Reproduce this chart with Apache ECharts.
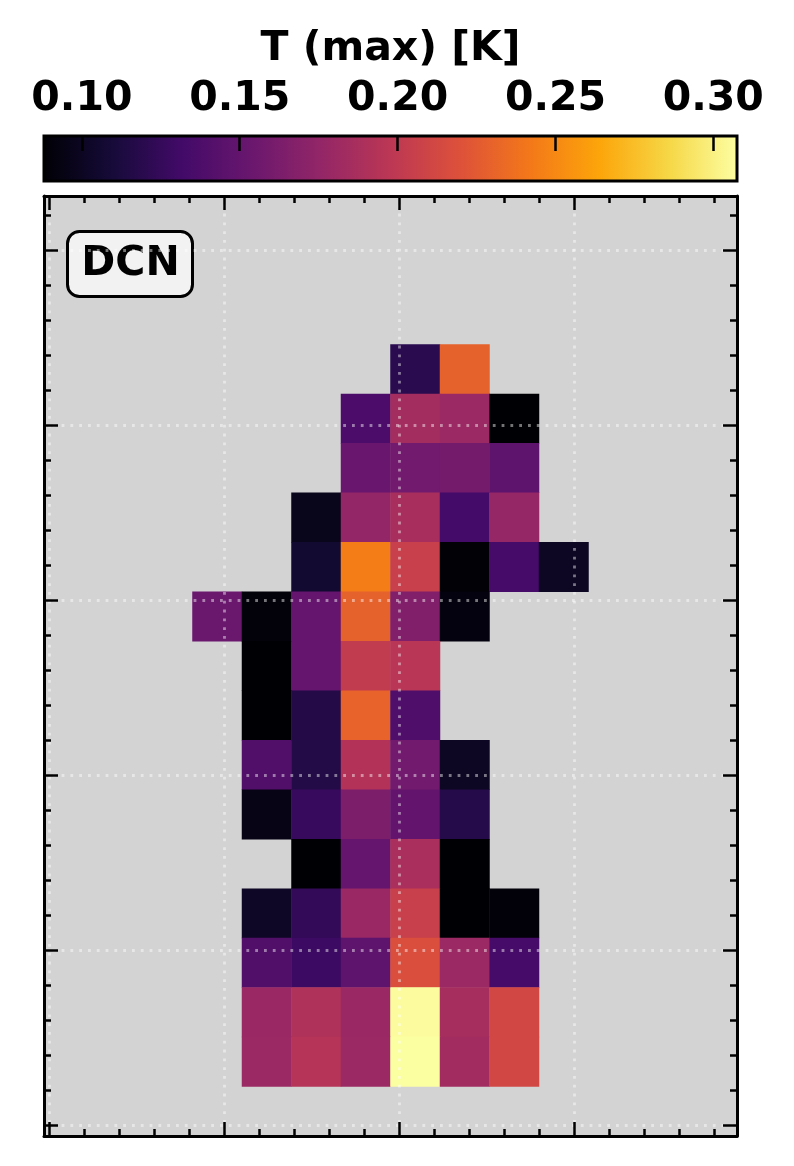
<!DOCTYPE html>
<html>
<head>
<meta charset="utf-8">
<script src="https://cdn.jsdelivr.net/npm/echarts@6/dist/echarts.min.js"></script>
<style>
html, body { margin: 0; padding: 0; background: #fff; }
#chart { width: 794px; height: 1166px; }
</style>
</head>
<body>
<div id="chart"></div>
<script>
var chart = echarts.init(document.getElementById('chart'));

// map cells: column / row index (row 0 = top), and T(max) in K
var cellCol = [
  7, 8,
  6, 7, 8, 9,
  6, 7, 8, 9,
  5, 6, 7, 8, 9,
  5, 6, 7, 8, 9, 10,
  3, 4, 5, 6, 7, 8,
  4, 5, 6, 7,
  4, 5, 6, 7,
  4, 5, 6, 7, 8,
  4, 5, 6, 7, 8,
  5, 6, 7, 8,
  4, 5, 6, 7, 8, 9,
  4, 5, 6, 7, 8, 9,
  4, 5, 6, 7, 8, 9,
  4, 5, 6, 7, 8, 9
];
var cellRow = [
  3, 3,
  4, 4, 4, 4,
  5, 5, 5, 5,
  6, 6, 6, 6, 6,
  7, 7, 7, 7, 7, 7,
  8, 8, 8, 8, 8, 8,
  9, 9, 9, 9,
  10, 10, 10, 10,
  11, 11, 11, 11, 11,
  12, 12, 12, 12, 12,
  13, 13, 13, 13,
  14, 14, 14, 14, 14, 14,
  15, 15, 15, 15, 15, 15,
  16, 16, 16, 16, 16, 16,
  17, 17, 17, 17, 17, 17
];
var tmax = [
  0.120, 0.229,
  0.137, 0.185, 0.180, 0.088,
  0.153, 0.158, 0.159, 0.147,
  0.097, 0.176, 0.187, 0.133, 0.177,
  0.107, 0.244, 0.205, 0.089, 0.134, 0.101,
  0.154, 0.091, 0.151, 0.229, 0.166, 0.092,
  0.088, 0.151, 0.202, 0.196,
  0.088, 0.117, 0.230, 0.139,
  0.140, 0.116, 0.193, 0.158, 0.101,
  0.095, 0.127, 0.164, 0.150, 0.118,
  0.088, 0.151, 0.188, 0.088,
  0.102, 0.124, 0.179, 0.205, 0.088, 0.090,
  0.140, 0.129, 0.147, 0.217, 0.180, 0.134,
  0.179, 0.191, 0.179, 0.306, 0.186, 0.211,
  0.180, 0.194, 0.180, 0.307, 0.184, 0.211
];

var cbTicks = [0.10, 0.15, 0.20, 0.25, 0.30];
var cbRange = [0.088, 0.3075];

var nCols = 14, nRows = 19;
// offset coordinates spanned by the frame (for the tick marks)
var xRange = [-0.16, 19.65];
var yRange = [-0.31, 26.56];

var FONT = 'DejaVu Sans';
var INFERNO = ['#000004', '#160b39', '#420a68', '#6a176e', '#932667', '#bc3754',
  '#dd513a', '#f37819', '#fca50a', '#f6d746', '#fcffa4'];

var cells = cellCol.map(function (c, i) { return [c, cellRow[i], tmax[i]]; });

var idx = function (n) { var a = []; for (var i = 0; i < n; i++) a.push(i); return a; };

function frameAxis(pos, range, grid) {
  return {
    type: 'value',
    gridIndex: 0,
    position: pos,
    min: range[0],
    max: range[1],
    splitNumber: 4,
    minInterval: 5,
    maxInterval: 5,
    z: 5,
    axisLine: { show: true, onZero: false, lineStyle: { color: '#000', width: 3 } },
    axisTick: { show: true, inside: true, length: 14, lineStyle: { color: '#000', width: 2.5 } },
    minorTick: { show: true, splitNumber: 5, length: 7, lineStyle: { color: '#000', width: 2.5 } },
    axisLabel: { show: false },
    splitLine: {
      show: grid, showMinLine: false, showMaxLine: false,
      lineStyle: { color: 'rgba(255,255,255,0.45)', width: 2.8, type: [2.8, 6] }
    }
  };
}

var option = {
  backgroundColor: '#fff',
  animation: false,
  grid: [
    { left: 44, top: 196, width: 693, height: 940, show: true, backgroundColor: '#d3d3d3', borderWidth: 0, outerBoundsMode: 'none' },
    { left: 44, top: 136, width: 693, height: 45, outerBoundsMode: 'none' }
  ],
  xAxis: [
    { type: 'category', gridIndex: 0, data: idx(nCols), show: false },
    frameAxis('bottom', xRange, true),
    frameAxis('top', xRange, false),
    {
      type: 'value', gridIndex: 1, position: 'top',
      min: cbRange[0], max: cbRange[1],
      splitNumber: 4, minInterval: 0.05, maxInterval: 0.05,
      z: 5,
      name: 'T (max) [K]',
      nameLocation: 'middle',
      nameGap: 66,
      nameMoveOverlap: false,
      nameTextStyle: { fontFamily: FONT, fontWeight: 'bold', fontSize: 41, color: '#000' },
      axisLine: { show: false, onZero: false },
      axisTick: { show: true, inside: true, length: 15, lineStyle: { color: '#000', width: 2.5 } },
      axisLabel: {
        show: true, margin: 16, fontFamily: FONT, fontWeight: 'bold', fontSize: 41, color: '#000',
        showMinLabel: false, showMaxLabel: false,
        formatter: function (v) {
          for (var i = 0; i < cbTicks.length; i++) {
            if (Math.abs(v - cbTicks[i]) < 1e-6) return cbTicks[i].toFixed(2);
          }
          return '';
        }
      },
      splitLine: { show: false }
    }
  ],
  yAxis: [
    { type: 'category', gridIndex: 0, data: idx(nRows), inverse: true, show: false },
    frameAxis('left', yRange, true),
    frameAxis('right', yRange, false),
    { type: 'value', gridIndex: 1, min: 0, max: 1, show: false }
  ],
  visualMap: {
    type: 'continuous',
    show: false,
    seriesIndex: 0,
    dimension: 2,
    min: cbRange[0],
    max: cbRange[1],
    inRange: { color: INFERNO }
  },
  graphic: [{
    type: 'group', left: 66, top: 230, z: 20,
    children: [
      { type: 'rect', shape: { x: 0, y: 0, width: 125, height: 65, r: 12 },
        style: { fill: '#f2f2f2', stroke: '#000', lineWidth: 3 } },
      { type: 'text', x: 63, y: 33,
        style: { text: 'DCN', fontFamily: FONT, fontWeight: 'bold', fontSize: 41, fill: '#000',
          align: 'center', verticalAlign: 'middle' } }
    ]
  }],
  series: [
    {
      type: 'heatmap',
      xAxisIndex: 0,
      yAxisIndex: 0,
      data: cells,
      itemStyle: { borderWidth: 0 },
      emphasis: { disabled: true }
    },
    {
      type: 'custom',
      xAxisIndex: 3,
      yAxisIndex: 3,
      data: [[cbRange[0], cbRange[1]]],
      clip: false,
      z: 1,
      renderItem: function (params, api) {
        var p0 = api.coord([api.value(0), 0]);
        var p1 = api.coord([api.value(1), 1]);
        var stops = INFERNO.map(function (c, i) { return { offset: i / (INFERNO.length - 1), color: c }; });
        return {
          type: 'rect',
          shape: { x: p0[0], y: p1[1], width: p1[0] - p0[0], height: p0[1] - p1[1] },
          style: { fill: new echarts.graphic.LinearGradient(0, 0, 1, 0, stops), stroke: '#000', lineWidth: 3 }
        };
      }
    }
  ]
};

chart.setOption(option);
</script>
</body>
</html>
